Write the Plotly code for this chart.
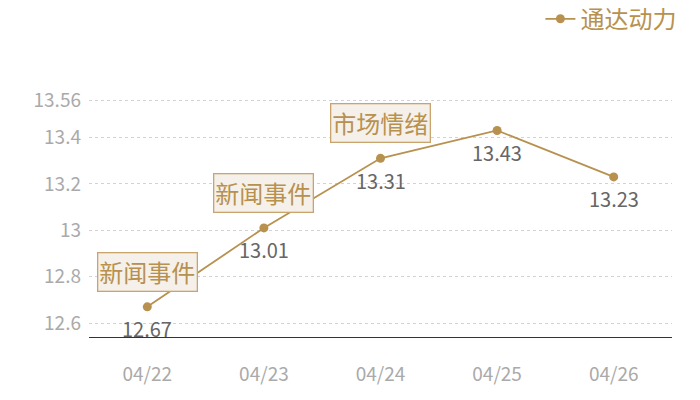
import plotly.graph_objects as go

categories = ["04/22", "04/23", "04/24", "04/25", "04/26"]
values = [12.67, 13.01, 13.31, 13.43, 13.23]
value_labels = ["12.67", "13.01", "13.31", "13.43", "13.23"]
event_labels = ["新闻事件", "新闻事件", "市场情绪", None, None]
series_name = "通达动力"
y_tickvals = [12.6, 12.8, 13.0, 13.2, 13.4, 13.56]
y_ticktext = ["12.6", "12.8", "13", "13.2", "13.4", "13.56"]
y_range = [12.54, 13.57]

FONT = "Noto Sans CJK SC"
GOLD = "#b8914f"

fig = go.Figure()
fig.add_trace(go.Scatter(
    x=list(range(len(categories))),
    y=values,
    mode="lines+markers",
    name=series_name,
    line=dict(color=GOLD, width=1.8),
    marker=dict(color=GOLD, size=9),
    cliponaxis=False,
))

for i, lab in enumerate(value_labels):
    fig.add_annotation(
        x=i, y=values[i], xref="x", yref="y",
        text=lab, showarrow=False, yshift=-22,
        font=dict(family=FONT, size=20, color="#666666"),
    )

for i, lab in enumerate(event_labels):
    if lab:
        fig.add_annotation(
            x=i, y=values[i], xref="x", yref="y",
            text=lab, showarrow=False, yshift=35,
            font=dict(family=FONT, size=24, color="#b8914f"),
            bgcolor="#f5f0ea", bordercolor="#c9a46d", borderwidth=1.3, borderpad=1,
        )

fig.update_layout(
    width=700, height=400,
    margin=dict(l=81, r=36, t=90, b=71, autoexpand=False),
    paper_bgcolor="white", plot_bgcolor="white",
    font=dict(family=FONT),
    showlegend=True,
    legend=dict(
        xref="container", yref="container", x=0.962, y=0.972,
        xanchor="right", yanchor="middle",
        font=dict(family=FONT, size=24, color=GOLD),
        bgcolor="rgba(0,0,0,0)", itemwidth=30,
    ),
    xaxis=dict(
        tickvals=list(range(len(categories))), ticktext=categories,
        range=[-0.5, len(categories) - 0.5],
        showgrid=False, zeroline=False,
        showline=True, linecolor="#333333", linewidth=1,
        ticks="", tickfont=dict(family=FONT, size=19, color="#aaaaaa"),
        ticklabelstandoff=20,
    ),
    yaxis=dict(
        range=y_range, tickvals=y_tickvals, ticktext=y_ticktext,
        showgrid=True, gridcolor="#d3d3d3", gridwidth=1, griddash="3px,3px",
        zeroline=False, showline=False, ticks="",
        tickfont=dict(family=FONT, size=19, color="#aaaaaa"),
        ticklabelstandoff=7,
    ),
)

fig.write_html("out.html")
